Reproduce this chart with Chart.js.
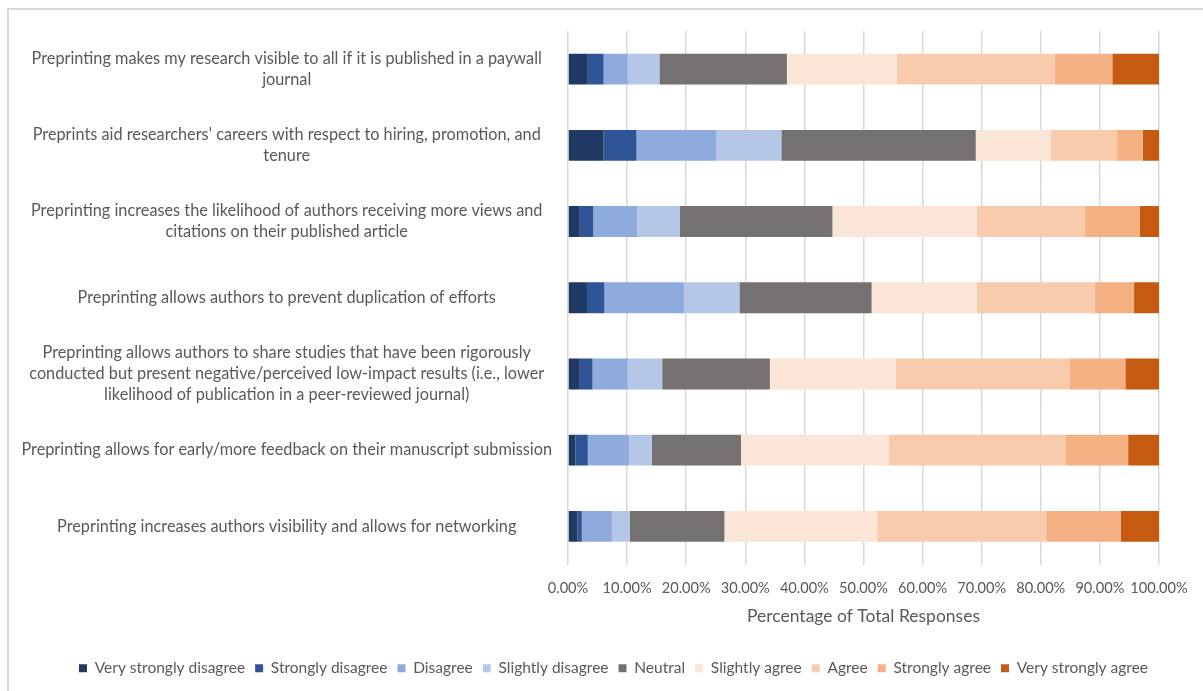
<!DOCTYPE html>
<html><head><meta charset="utf-8">
<script src="https://cdn.jsdelivr.net/npm/chart.js@4.4.1/dist/chart.umd.min.js"></script>
<style>
html,body{margin:0;padding:0;background:#fff;overflow:hidden;width:1203px;height:691px}
#frame{position:absolute;left:7px;top:8px;width:1300px;height:800px;border-left:2px solid #d9d9d9;border-top:2px solid #d9d9d9;box-sizing:border-box}
#wrap{position:absolute;left:0;top:0;width:1203px;height:691px}
</style></head><body>
<div id="frame"></div>
<div id="wrap"><canvas id="c"></canvas></div>
<script>
const categories = [
  ["Preprinting makes my research visible to all if it is published in a paywall", "journal"],
  ["Preprints aid researchers' careers with respect to hiring, promotion, and", "tenure"],
  ["Preprinting increases the likelihood of authors receiving more views and", "citations on their published article"],
  "Preprinting allows authors to prevent duplication of efforts",
  ["Preprinting allows authors to share studies that have been rigorously", "conducted but present negative/perceived low-impact results (i.e., lower", "likelihood of publication in a peer-reviewed journal)"],
  "Preprinting allows for early/more feedback on their manuscript submission",
  "Preprinting increases authors visibility and allows for networking"
];
const seriesNames = ["Very strongly disagree","Strongly disagree","Disagree","Slightly disagree","Neutral","Slightly agree","Agree","Strongly agree","Very strongly agree"];
const seriesColors = ["#203864","#2F5597","#8FAADC","#B4C7E7","#767171","#FBE5D6","#F8CBAD","#F4B183","#C55A11"];
const veryStronglyDisagree = [3.35, 6.03, 2.00, 3.21, 2.00, 1.27, 1.61];
const stronglyDisagree     = [2.68, 5.56, 2.29, 2.95, 2.15, 2.08, 0.73];
const disagree             = [4.08, 13.53, 7.43, 13.46, 5.96, 6.96, 5.09];
const slightlyDisagree     = [5.36, 10.98, 7.23, 9.38, 5.83, 3.89, 3.02];
const neutral              = [21.57, 32.89, 25.79, 22.37, 18.22, 15.07, 16.01];
const slightlyAgree        = [18.55, 12.71, 24.45, 17.82, 21.30, 25.05, 25.85];
const agree                = [26.79, 11.20, 18.28, 19.96, 29.47, 29.94, 28.60];
const stronglyAgree        = [9.72, 4.35, 9.31, 6.63, 9.38, 10.52, 12.66];
const veryStronglyAgree    = [7.90, 2.75, 3.22, 4.22, 5.69, 5.22, 6.43];
const xTicks = [0,10,20,30,40,50,60,70,80,90,100];

const seriesValues = [veryStronglyDisagree, stronglyDisagree, disagree, slightlyDisagree, neutral, slightlyAgree, agree, stronglyAgree, veryStronglyAgree];
const FONT = "Lato";
const TXT = "#595959";

const legendShift = {
  id: 'legendShift',
  afterLayout(chart) {
    const lg = chart.legend;
    if (lg) { lg.left += 29; lg.right += 29; if (lg.adjustHitBoxes) lg.adjustHitBoxes(); }
  }
};

function build(){
  Chart.defaults.font.family = FONT;
  Chart.defaults.color = TXT;
  new Chart(document.getElementById('c'), {
    type: 'bar',
    data: {
      labels: categories,
      datasets: seriesNames.map((n, i) => ({
        label: n, data: seriesValues[i], backgroundColor: seriesColors[i],
        borderWidth: 0, barPercentage: 0.405, categoryPercentage: 1
      }))
    },
    plugins: [legendShift],
    options: {
      indexAxis: 'y',
      responsive: false,
      animation: false,
      devicePixelRatio: 1,
      layout: { padding: { left: 10, right: 44, top: 31, bottom: 5 } },
      plugins: {
        tooltip: { enabled: false },
        legend: {
          position: 'bottom',
          labels: { boxWidth: 8, boxHeight: 8, padding: 10, color: TXT, font: { size: 15.5, family: FONT } }
        }
      },
      scales: {
        x: {
          stacked: true, min: 0, max: 100,
          afterBuildTicks: s => { s.ticks = xTicks.map(v => ({ value: v })); },
          afterFit: s => { s.height = 86; },
          grid: { color: '#d9d9d9', lineWidth: 1.5, drawTicks: false },
          border: { display: false },
          ticks: { padding: 15, color: TXT, font: { size: 14.6, family: FONT }, callback: v => v.toFixed(2) + '%' , maxRotation: 0, autoSkip: false },
          title: { display: true, text: 'Percentage of Total Responses', color: TXT, font: { size: 17.5, family: FONT }, padding: { top: 0, bottom: 24 } }
        },
        y: {
          stacked: true,
          afterFit: s => { s.width = 558; },
          grid: { display: false, drawTicks: false },
          border: { display: false },
          ticks: { crossAlign: 'center', padding: 16, color: TXT, font: { size: 16.3, family: FONT, lineHeight: 1.3 }, autoSkip: false }
        }
      }
    }
  });
}
const cv = document.getElementById('c');
cv.width = 1203; cv.height = 691; cv.style.width = '1203px'; cv.style.height = '691px';
(document.fonts && document.fonts.load ? document.fonts.load("14px " + FONT) : Promise.resolve()).then(build, build);
</script>
</body></html>
